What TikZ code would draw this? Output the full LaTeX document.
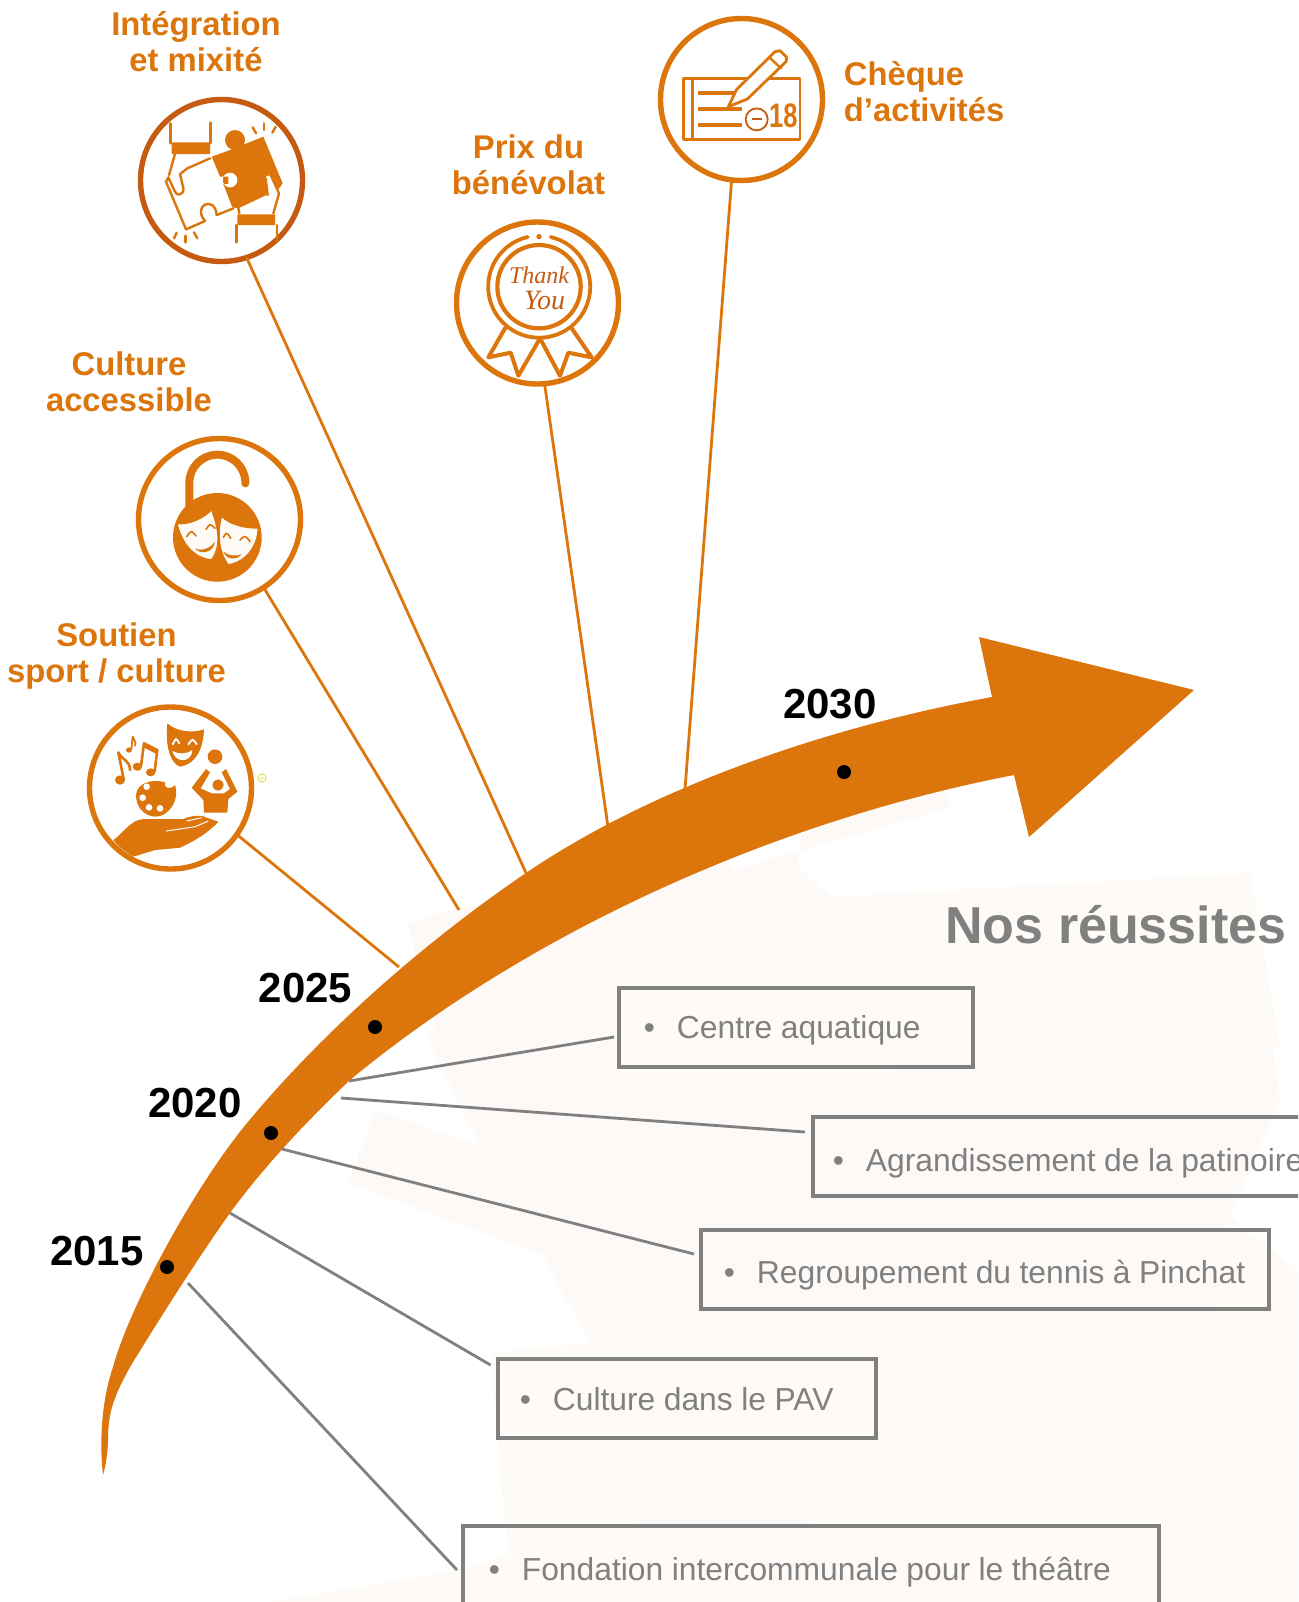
\documentclass[tikz,border=0pt]{standalone}
\usepackage{fontspec}
\setmainfont{Liberation Sans}
\newfontfamily\merciFont{Liberation Serif}
\usetikzlibrary{positioning}

\definecolor{orangeFleche}{HTML}{DB750C}
\definecolor{orangeFonce}{HTML}{C55A11}
\definecolor{grisTexte}{HTML}{808080}
\definecolor{creme}{HTML}{FEFAF5}
\definecolor{rose}{HTML}{FCF9F7}
\definecolor{jaunePale}{HTML}{E4DE5A}
\newcommand{\puce}[1]{\spaceskip=.267em\relax\makebox[#1][r]{\textbullet\hspace{11pt}}}

\begin{document}
\begin{tikzpicture}[x=0.5pt, y=-0.5pt,
    icone/.style={circle, draw=orangeFleche, line width=2.7pt, minimum size=81pt, inner sep=0pt, outer sep=0pt},
    etiquette/.style={text=orangeFleche, align=center, inner sep=0pt, font=\fontsize{16.4}{18}\selectfont\bfseries},
    annee/.style={inner sep=0pt, font=\fontsize{21}{24}\selectfont\bfseries},
    jalon/.style={circle, fill=black, minimum size=7pt, inner sep=0pt},
    reussite/.style={draw=grisTexte, line width=2pt, text=grisTexte, align=left,
                     anchor=west, minimum height=39.5pt, inner sep=0pt, outer sep=0pt, text depth=3pt,
                     font=\fontsize{15.9}{19}\selectfont},
    lienOrange/.style={draw=orangeFleche, line width=1.4pt},
    lienGris/.style={draw=grisTexte, line width=1.4pt},
    trait/.style={draw=orangeFleche, line cap=round, line join=round, line width=1.2pt},
    plein/.style={fill=orangeFleche}]

  \clip (0,0) rectangle (1298,1602);

  % Faint shapes behind the list
  \fill[rose] (407,923) -- (450,910) -- (727,853) -- (732,870) -- (952,807) -- (944,790) -- (803,828)
       -- (797,865) -- (830,897) -- (1250,890) -- (1280,1100) -- (1230,1215) -- (1208,1382) -- (715,1330)
       -- (589,1342) -- (543,1255) -- (348,1183) -- (376,1110) -- (484,1148) -- (466,1120) -- (426,1033) -- (435,1028) -- cycle;
  \fill[creme] (608,910) -- (830,897) -- (1250,873) -- (1280,1047) -- (805,1075) -- (612,1078) -- cycle;
  \fill[creme] (490,1353) -- (715,1330) -- (1208,1382) -- (1228,1215) -- (1298,1270) -- (1298,1602)
       -- (270,1602) -- (459,1570) -- (508,1555) -- cycle;
  \fill[rose] (655,1467) -- (630,1540) -- (830,1602) -- (1026,1602) -- cycle;

  % Rings
  \node[icone, draw=orangeFonce] (integration) at (221.5,180.5) {};
  \node[icone] (cheque) at (741.5,99.5) {};
  \node[icone] (benevolat) at (537.5,303) {};
  \node[icone] (culture) at (219.5,519.5) {};
  \node[icone] (soutien) at (170.5,788) {};

  % Titles
  \node[etiquette] (titreIntegration) at (196,42) {Intégration\\et mixité};
  \node[etiquette, align=left, right=10.5pt of cheque, yshift=3.7pt] (titreCheque) {Chèque\\d’activités};
  \node[etiquette] (titreBenevolat) at (528.5,165) {Prix du\\bénévolat};
  \node[etiquette] (titreCulture) at (129,382) {Culture\\accessible};
  \node[etiquette] (titreSoutien) at (116.5,656) {Soutien\\sport / culture};

  % Where the lines meet the arrow
  \coordinate (arriveeIntegration) at (526,873);
  \coordinate (arriveeCheque) at (685,789);
  \coordinate (arriveeBenevolat) at (608,827);
  \coordinate (arriveeCulture) at (459,910);
  \coordinate (arriveeSoutien) at (399,967);
  \coordinate (departCentre) at (349,1081);
  \coordinate (departPatinoire) at (341,1098);
  \coordinate (departTennis) at (282,1149);
  \coordinate (departPav) at (230,1213);
  \coordinate (departTheatre) at (188,1283);

  \draw[lienOrange] (integration.-72) -- (arriveeIntegration);
  \draw[lienOrange] (cheque.-97) -- (arriveeCheque);
  \draw[lienOrange] (benevolat.-85) -- (arriveeBenevolat);
  \draw[lienOrange] (culture.-57) -- (arriveeCulture);
  \draw[lienOrange] (soutien.-35) -- (arriveeSoutien);

  % Arrow
  \fill[orangeFleche] (103,1475) .. controls (98,1430) and (105,1390) .. (113,1367)
     .. controls (130,1305) and (195,1186) .. (247,1123)
     .. controls (320,1035) and (420,945) .. (526,873)
     .. controls (640,795) and (810,730) .. (992,697)
     -- (979,637) -- (1194,690) -- (1029,837) -- (1014,775)
     .. controls (770,822) and (525,935) .. (350,1080)
     .. controls (310,1118) and (265,1165) .. (230,1213)
     .. controls (200,1255) and (160,1318) .. (130,1367)
     .. controls (115,1395) and (108,1410) .. (108,1440)
     .. controls (108,1450) and (106,1465) .. (103,1475) -- cycle;

  \node[jalon] (point2015) at (167,1267) {};
  \node[jalon] (point2020) at (271,1133) {};
  \node[jalon] (point2025) at (375,1027) {};
  \node[jalon] (point2030) at (844,772) {};
  \node[annee] (an2015) at (97,1251) {2015};
  \node[annee] (an2020) at (195,1103) {2020};
  \node[annee] (an2025) at (305.5,988) {2025};
  \node[annee] (an2030) at (830,704) {2030};

  \node[inner sep=0pt, anchor=west, text=grisTexte, font=\fontsize{26}{30}\selectfont\bfseries] (titreReussites) at (945,925) {Nos réussites};

  % List
  \node[reussite, text width=177pt, text height=14.2pt] (centre) at (619,1027) {\puce{29pt}Centre aquatique};
  \node[reussite, text width=300pt, text height=18.4pt] (patinoire) at (813,1156.5) {\puce{26.5pt}Agrandissement de la patinoire};
  \node[reussite, text width=284pt, text height=16.7pt] (tennis) at (701,1269.5) {\puce{28pt}Regroupement du tennis à Pinchat};
  \node[reussite, text width=189pt, text height=15.6pt] (pav) at (497.5,1398) {\puce{27.7pt}Culture dans le PAV};
  \node[reussite, text width=348pt, text height=18.4pt] (theatre) at (462.5,1565) {\puce{29.7pt}Fondation intercommunale pour le théâtre};

  \draw[lienGris] (departCentre) -- ([shift={(-5,10)}]centre.west);
  \draw[lienGris] (departPatinoire) -- ([shift={(-8,-24.5)}]patinoire.west);
  \draw[lienGris] (departTennis) -- ([shift={(-7,-15.5)}]tennis.west);
  \draw[lienGris] (departPav) -- ([shift={(-7,-33)}]pav.west);
  \draw[lienGris] (departTheatre) -- ([shift={(-5.5,5)}]theatre.west);

  % Puzzle icon
  \begin{scope}[shift={(100,80)}, x=0.1667pt, y=-0.1667pt]
    \draw[trait] (212,130) -- (212,190) (332,128) -- (332,190) (410,435) -- (410,487) (530,435) -- (530,487);
    \fill[plein] (215,187) rectangle (330,222) (412,403) rectangle (525,435);
    \draw[trait] (225,222) -- (207,285) (330,235) -- (262,265) -- (240,282) -- (250,325)
       .. controls (252,345) and (230,350) .. (225,335) -- (205,292) -- (198,305) -- (258,448) -- (315,423)
       .. controls (275,375) and (345,345) .. (350,405) -- (400,385);
    \fill[plein] (335,230) -- (385,212) -- (490,170) -- (548,310) -- (535,328) -- (415,385) -- (397,382) -- (375,325) -- (358,285) -- cycle;
    \fill[plein] (405,180) circle (30);
    \fill[white] (390,300) circle (22) (355,290) rectangle (385,312);
    \fill[white] (498,290) -- (512,285) -- (535,340) -- (520,395) -- (415,400) -- (420,385) -- (475,365) -- (505,345) -- cycle;
    \draw[trait] (497,295) -- (503,345) (512,285) -- (537,340) -- (520,400) (415,385) -- (418,400);
    \foreach \xa/\ya/\xb/\yb in {458/142/468/160, 492/130/492/150, 527/140/517/158, 230/458/222/475, 257/467/257/487, 282/457/292/475}
      \draw[trait] (\xa,\ya) -- (\xb,\yb);
  \end{scope}

  % Cheque icon
  \begin{scope}[shift={(640,0)}, x=0.1667pt, y=-0.1667pt]
    \draw[trait, line width=1.3pt] (130,235) rectangle (480,418);
    \draw[trait, line width=1.3pt] (158,235) -- (158,418);
    \foreach \yl in {278,326,375}
      \draw[trait, line width=1.9pt, line cap=butt] (175,\yl) -- (305,\yl);
    \filldraw[trait, fill=white, line width=1.4pt] (265,320) -- (290,268) -- (405,155) -- (420,152) -- (440,172) -- (438,185) -- (322,297) -- cycle;
    \draw[trait, line width=1.2pt] (388,172) -- (423,205);
    \draw[orangeFonce, line width=.9pt, fill=white] (350,358) circle (33);
    \draw[orangeFonce, line width=.9pt] (335,358) -- (365,358);
    \node[text=orangeFleche, xscale=.75, inner sep=0pt, font=\fontsize{17}{18}\selectfont\bfseries] (moinsDixHuit) at (430,347) {18};
  \end{scope}

  % Medal icon
  \begin{scope}[shift={(440,210)}, x=0.1667pt, y=-0.1667pt]
    \filldraw[trait, fill=white, line width=2pt] (195,355) -- (145,442) -- (212,428) -- (235,497) -- (300,385);
    \filldraw[trait, fill=white, line width=2pt] (395,355) -- (455,442) -- (385,428) -- (360,497) -- (300,385);
    \draw[trait, line width=2.1pt] (297,230) circle (125);
    \draw[trait, line width=1.9pt] (332,81) arc[start angle=-77, end angle=257, radius=153];
    \fill[plein] (297,80) circle (8);
    \node[text=orangeFonce, inner sep=0pt, font=\merciFont\fontsize{12}{13}\selectfont\itshape] (merciThank) at (297,197) {Thank};
    \node[text=orangeFonce, inner sep=0pt, font=\merciFont\fontsize{14}{15}\selectfont\itshape] (merciYou) at (314,270) {You};
  \end{scope}

  % Padlock icon
  \begin{scope}[shift={(120,430)}, x=0.1667pt, y=-0.1667pt]
    \draw[trait, line width=4pt] (208,240) -- (208,158) arc[start angle=180, end angle=360, radius=84] -- (376,160);
    \fill[plein] (292,322) circle (133);
    \filldraw[draw=orangeFleche, line width=.8pt, fill=creme] (170,280) .. controls (205,285) and (250,265) .. (275,238)
       .. controls (290,280) and (310,340) .. (275,390) .. controls (220,385) and (185,340) .. (170,280) -- cycle;
    \filldraw[draw=orangeFleche, line width=.8pt, fill=creme] (305,258) .. controls (330,285) and (380,295) .. (415,293)
       .. controls (415,340) and (385,395) .. (325,405) .. controls (295,370) and (290,300) .. (305,258) -- cycle;
    \foreach \xa/\ya/\xc/\yc/\xb/\yb in {200/320/214/300/228/318, 258/298/270/280/285/295, 310/322/320/305/332/325, 360/330/375/315/390/335}
      \draw[trait, line width=.8pt] (\xa,\ya) .. controls (\xc,\yc) .. (\xb,\yb);
    \fill[plein] (225,355) .. controls (245,365) and (270,355) .. (285,335) .. controls (280,370) and (240,375) .. (225,355) -- cycle;
    \fill[plein] (310,365) .. controls (325,378) and (350,380) .. (365,372) .. controls (350,392) and (320,390) .. (310,365) -- cycle;
  \end{scope}

  % Hand and arts icon
  \begin{scope}[shift={(80,695)}, x=0.1667pt, y=-0.1667pt]
    \fill[plein] (262,85) .. controls (290,110) and (335,115) .. (372,103) .. controls (370,150) and (355,205) .. (300,215)
       .. controls (270,205) and (255,150) .. (262,85) -- cycle;
    \draw[white, line width=.9pt, line cap=round] (278,148) .. controls (288,128) .. (298,145) (325,148) .. controls (338,130) .. (350,148);
    \fill[white] (277,168) .. controls (295,178) and (320,178) .. (337,165) .. controls (335,205) and (285,205) .. (277,168) -- cycle;
    % notes
    \fill[plein] (120,255) ellipse (15 and 14) (172,215) ellipse (14 and 12) (212,232) ellipse (14 and 12) (147,165) ellipse (9 and 8);
    \draw[trait, line width=1.3pt] (131,252) -- (115,172) .. controls (125,195) and (150,195) .. (150,225);
    \draw[trait, line width=1.3pt] (183,212) -- (192,145) -- (232,165) -- (224,228);
    \draw[trait, line width=1.6pt, line cap=butt] (192,152) -- (230,172);
    \draw[trait, line width=.9pt] (154,162) -- (158,125) .. controls (160,135) and (170,140) .. (165,152);
    % palette
    \fill[plein] (168,300) .. controls (170,265) and (215,250) .. (255,262) .. controls (250,280) and (270,285) .. (285,270)
       .. controls (300,310) and (270,365) .. (225,365) .. controls (190,362) and (168,335) .. (168,300) -- cycle;
    \foreach \xh/\yh in {200/275, 188/308, 207/337, 240/340}
      \fill[white] (\xh,\yh) circle (10);
    % ball and figure
    \fill[plein] (405,185) circle (22);
    \fill[plein] (335,278) -- (378,222) -- (390,232) -- (362,280) -- (395,295) -- (432,295) -- (450,282) -- (425,232) -- (438,222)
       -- (472,290) -- (445,312) -- (442,353) -- (372,353) -- (370,315) -- cycle;
    \filldraw[draw=white, line width=.4pt, fill=orangeFleche] (414,270) circle (18);
    % hand
    \fill[plein] (100,435) .. controls (130,415) and (150,375) .. (190,372) -- (310,372) .. controls (330,362) and (365,358) .. (380,368)
       -- (415,380) .. controls (390,410) and (340,440) .. (300,458) -- (225,465) -- (160,485) .. controls (135,470) and (115,455) .. (100,435) -- cycle;
    \draw[white, line width=.5pt] (258,408) -- (345,395) -- (385,378) (320,378) -- (365,368);
  \end{scope}

  \draw[jaunePale, line width=.5pt] (262,778) circle (4) (260,778) -- (264,778);

\end{tikzpicture}
\end{document}
